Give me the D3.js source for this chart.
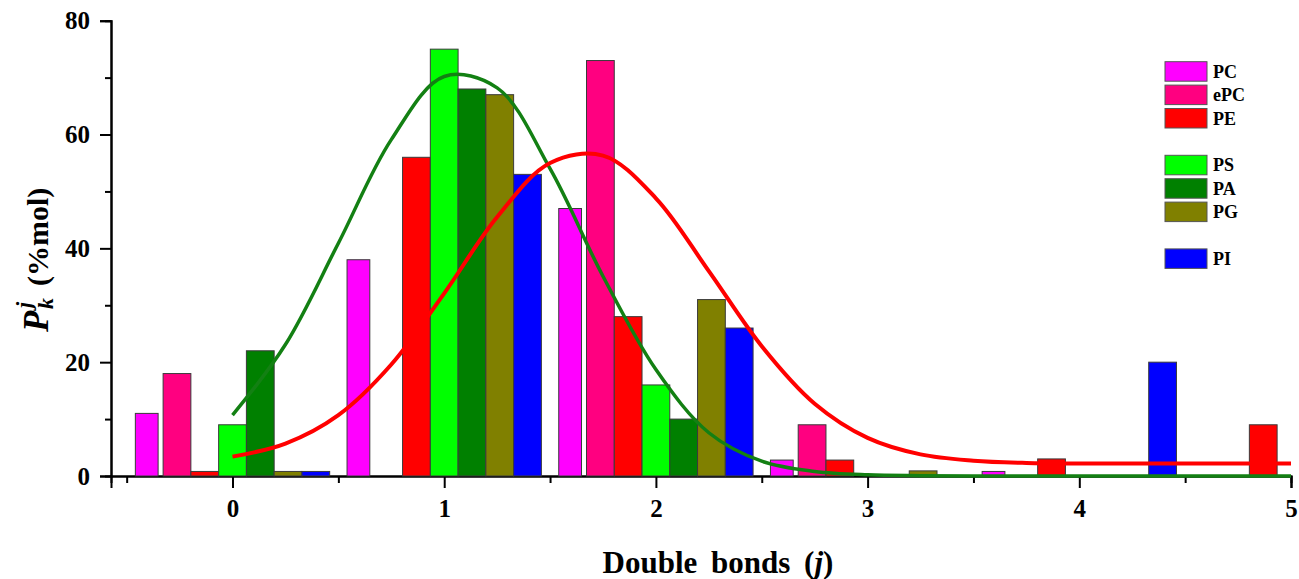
<!DOCTYPE html>
<html>
<head>
<meta charset="utf-8">
<script src="https://cdnjs.cloudflare.com/ajax/libs/d3/7.8.5/d3.min.js"></script>
<style>
  body { margin: 0; background: #fff; }
  svg text { font-family: "Liberation Serif", "Times New Roman", serif; font-weight: bold; }
</style>
</head>
<body>
<svg id="chart" width="1299" height="579"></svg>
<script>
// double bond count j (x positions of the groups)
const jValues = [0, 1, 2, 3, 4, 5];
const seriesNames = ["PC", "ePC", "PE", "PS", "PA", "PG", "PI"];

// P_k^j (%mol) for each class
const pcValues  = [11, 38, 47, 2.8, 0.8, 0];
const epcValues = [18, 0, 73, 9, 0, 0];
const peValues  = [0.8, 56, 28, 2.8, 3, 9];
const psValues  = [9, 75, 16, 0, 0, 0];
const paValues  = [22, 68, 10, 0, 0, 0];
const pgValues  = [0.8, 67, 31, 0.9, 0, 0];
const piValues  = [0.8, 53, 26, 0, 20, 0];

// fitted curves, every 0.25
const fitX = [0, 0.25, 0.5, 0.75, 1, 1.25, 1.5, 1.75, 2, 2.25, 2.5, 2.75, 3, 3.25, 3.5, 3.75, 4, 4.25, 4.5, 4.75, 5];
const greenFit = [10.7, 23.1, 40.9, 59.1, 70.2, 68.2, 54.0, 35.1, 18.7, 7.6, 2.6, 0.8, 0.2, 0.05, 0, 0, 0, 0, 0, 0, 0];
const redFit = [3.4, 5.7, 10.7, 19.6, 32.1, 45.5, 55.0, 56.3, 48.8, 36.0, 22.8, 12.7, 6.7, 3.8, 2.7, 2.3, 2.2, 2.2, 2.2, 2.2, 2.2];

const xMajor = [0, 1, 2, 3, 4, 5];
const xMinor = [-0.5, 0.5, 1.5, 2.5, 3.5, 4.5];
const yMajor = [0, 20, 40, 60, 80];
const yMinor = [10, 30, 50, 70];

const colors = {
  PC: "#ff00ff", ePC: "#ff0080", PE: "#ff0000", PS: "#00ff00",
  PA: "#008000", PG: "#808000", PI: "#0000ff"
};

const valuesBySeries = {
  PC: pcValues, ePC: epcValues, PE: peValues, PS: psValues,
  PA: paValues, PG: pgValues, PI: piValues
};

const svg = d3.select("#chart");

const x = d3.scaleLinear().domain([-0.574, 5]).range([111, 1291]);
const y = d3.scaleLinear().domain([0, 80]).range([476, 20.7]);

// bars of one group sit side by side around j
const inner = d3.scaleBand().domain(seriesNames).range([-0.459, 0.459]);
const bandPx = x(inner.bandwidth()) - x(0);

// axes
const fmt = d3.format("d");
const yAxis = d3.axisLeft(y).tickValues(yMajor).tickFormat(fmt).tickSize(11).tickPadding(10);
const yAxisMinor = d3.axisLeft(y).tickValues(yMinor).tickSize(6).tickFormat("");
const xAxis = d3.axisBottom(x).tickValues(xMajor).tickFormat(fmt).tickSize(12).tickPadding(11);
const xAxisMinor = d3.axisBottom(x).tickValues(xMinor).tickSize(7).tickFormat("");

function styleAxis(g) {
  g.select(".domain").attr("stroke-width", 2);
  g.selectAll(".tick line").attr("stroke-width", 2);
  g.selectAll(".tick text")
    .attr("font-size", 25)
    .attr("fill", "#000");
}

svg.append("g").attr("transform", `translate(${x(-0.574)},0)`).call(yAxisMinor).call(styleAxis);
svg.append("g").attr("transform", `translate(${x(-0.574)},0)`).call(yAxis).call(styleAxis);
svg.append("g").attr("transform", `translate(0,${y(0)})`).call(xAxisMinor).call(styleAxis);
svg.append("g").attr("transform", `translate(0,${y(0)})`).call(xAxis).call(styleAxis);

// bars
const barData = [];
seriesNames.forEach(name => {
  valuesBySeries[name].forEach((v, i) => {
    if (v > 0) barData.push({ name: name, j: jValues[i], val: v });
  });
});

svg.append("g").selectAll("rect")
  .data(barData)
  .enter()
  .append("rect")
  .attr("x", d => x(d.j + inner(d.name)))
  .attr("y", d => y(d.val))
  .attr("width", d => d.name === "PC" ? bandPx * 0.82 : bandPx)
  .attr("height", d => y(0) - y(d.val))
  .attr("fill", d => colors[d.name])
  .attr("stroke", "#3a3a3a")
  .attr("stroke-width", 1);

// fitted curves
const line = d3.line()
  .x(d => x(d[0]))
  .y(d => y(d[1]))
  .curve(d3.curveCatmullRom.alpha(0.5));

svg.append("path")
  .datum(fitX.map((v, i) => [v, greenFit[i]]))
  .attr("d", line)
  .attr("fill", "none")
  .attr("stroke", "#138013")
  .attr("stroke-width", 3.5);

svg.append("path")
  .datum(fitX.map((v, i) => [v, redFit[i]]))
  .attr("d", line)
  .attr("fill", "none")
  .attr("stroke", "#ff0000")
  .attr("stroke-width", 4);

// legend, with empty slots between the groups
const legendSlots = [0, 1, 2, 4, 5, 6, 8];
const legend = svg.append("g").attr("transform", "translate(1165,61.7)");
const legendRows = legend.selectAll("g")
  .data(seriesNames)
  .enter()
  .append("g")
  .attr("transform", (d, i) => `translate(0,${legendSlots[i] * 23.4})`);

legendRows.append("rect")
  .attr("width", 42)
  .attr("height", 19.5)
  .attr("fill", d => colors[d])
  .attr("stroke", "#555")
  .attr("stroke-width", 1);

legendRows.append("text")
  .attr("x", 48)
  .attr("y", 16)
  .attr("font-size", 18)
  .text(d => d);

// axis titles
svg.append("text")
  .attr("x", 718)
  .attr("y", 573)
  .attr("text-anchor", "middle")
  .attr("font-size", 31)
  .attr("word-spacing", 6)
  .html('Double bonds (<tspan font-style="italic">j</tspan>)');

const yTitle = svg.append("g").attr("transform", "translate(48,257) rotate(-90)");
yTitle.append("text").attr("x", -75).attr("y", 0)
  .attr("font-style", "italic").attr("font-size", 35).text("P");
yTitle.append("text").attr("x", -51).attr("y", -17)
  .attr("font-style", "italic").attr("font-size", 22).text("j");
yTitle.append("text").attr("x", -52).attr("y", 5)
  .attr("font-style", "italic").attr("font-size", 22).text("k");
yTitle.append("text").attr("x", -29).attr("y", 0)
  .attr("font-size", 30).text("(%mol)");
</script>
</body>
</html>
